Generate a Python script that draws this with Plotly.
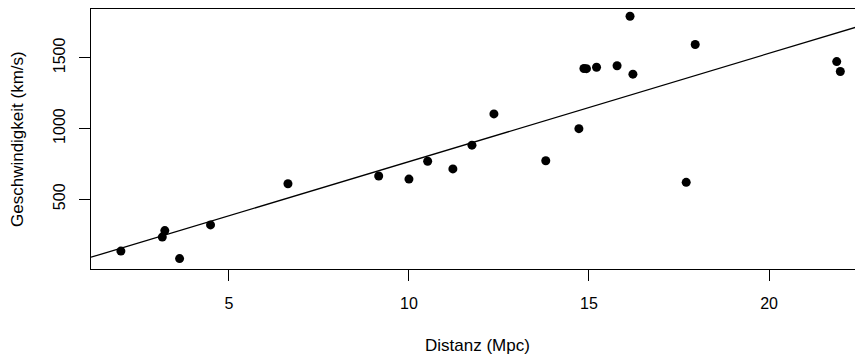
import numpy as np
import plotly.graph_objects as go

# Hubble data: distance (Mpc) and velocity (km/s)
galaxies = ["NGC0300", "NGC0925", "NGC1326A", "NGC1365", "NGC1425", "NGC2403",
            "NGC2541", "NGC2090", "NGC3031", "NGC3198", "NGC3351", "NGC3368",
            "NGC3621", "NGC4321", "NGC4414", "NGC4496A", "NGC4548", "NGC4535",
            "NGC4536", "NGC4639", "NGC4725", "IC4182", "NGC5253", "NGC7331"]
distance = [2.00, 9.16, 16.14, 17.95, 21.88, 3.22, 11.22, 11.75, 3.63, 13.80, 10.00, 10.52,
            6.64, 15.21, 17.70, 14.86, 16.22, 15.78, 14.93, 21.98, 12.36, 4.49, 3.15, 14.72]
velocity = [133, 664, 1794, 1594, 1473, 278, 714, 882, 80, 772, 642, 768,
            609, 1433, 619, 1424, 1384, 1444, 1423, 1403, 1103, 318, 232, 999]

x_ticks = [5, 10, 15, 20]
y_ticks = [500, 1000, 1500]
x_title = "Distanz (Mpc)"
y_title = "Geschwindigkeit (km/s)"

xa = np.array(distance)
ya = np.array(velocity)
# regression through origin (lm(y ~ x - 1))
slope = float(np.sum(xa * ya) / np.sum(xa * xa))

x_range = [1.17, 22.61]
y_range = [6.4, 1845]

FONT = "Liberation Sans, Arial, Helvetica, sans-serif"

fig = go.Figure()
fig.add_trace(go.Scatter(
    x=x_range, y=[slope * v for v in x_range], mode="lines",
    line=dict(color="black", width=1.3), showlegend=False, hoverinfo="skip"))
fig.add_trace(go.Scatter(
    x=distance, y=velocity, mode="markers", text=galaxies,
    marker=dict(color="black", size=9, line=dict(width=0)), showlegend=False))

fig.update_layout(
    width=855, height=347,
    margin=dict(l=83, r=0, t=1, b=86),
    paper_bgcolor="white", plot_bgcolor="white",
    font=dict(family=FONT, size=16, color="black"),
    xaxis=dict(range=x_range, tickvals=x_ticks, ticks="outside", ticklen=11,
               tickwidth=1, tickcolor="black", showline=True, linecolor="black",
               linewidth=1, mirror=True, showgrid=False, zeroline=False,
               tickfont=dict(size=16), ticklabelstandoff=9),
    yaxis=dict(range=y_range, tickvals=y_ticks, ticks="outside", ticklen=11,
               tickwidth=1, tickcolor="black", showline=True, linecolor="black",
               linewidth=1, mirror=False, showgrid=False, zeroline=False,
               tickangle=-90, tickfont=dict(size=16), ticklabelstandoff=8),
    annotations=[
        dict(text=x_title, xref="paper", yref="paper", x=0.5, y=0,
             xanchor="center", yanchor="middle", yshift=-76, showarrow=False,
             font=dict(size=17)),
        dict(text=y_title, xref="paper", yref="paper", x=0, y=0.5,
             xanchor="center", yanchor="middle", xshift=-74, textangle=-90,
             showarrow=False, font=dict(size=17)),
    ],
)

fig.write_html("out.html")
